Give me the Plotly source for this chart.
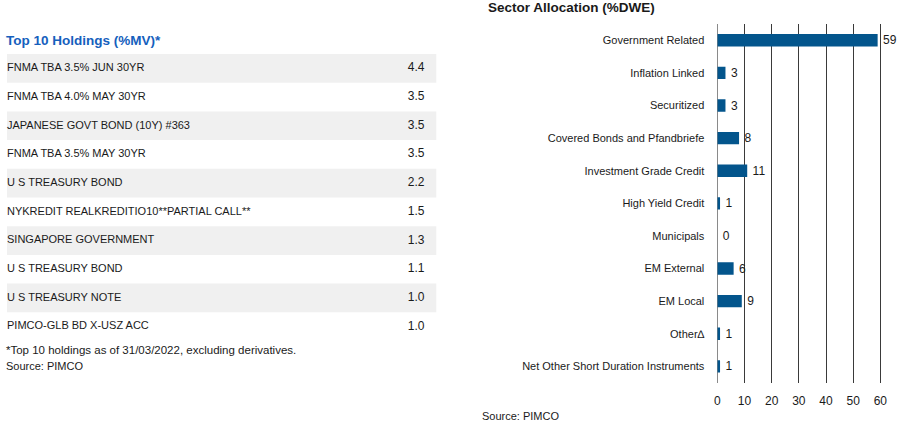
import plotly.graph_objects as go

# ---- data ----
holdings = [
    "FNMA TBA 3.5% JUN 30YR",
    "FNMA TBA 4.0% MAY 30YR",
    "JAPANESE GOVT BOND (10Y) #363",
    "FNMA TBA 3.5% MAY 30YR",
    "U S TREASURY BOND",
    "NYKREDIT REALKREDITIO10**PARTIAL CALL**",
    "SINGAPORE GOVERNMENT",
    "U S TREASURY BOND",
    "U S TREASURY NOTE",
    "PIMCO-GLB BD X-USZ ACC",
]
holding_mv = [4.4, 3.5, 3.5, 3.5, 2.2, 1.5, 1.3, 1.1, 1.0, 1.0]

sectors = [
    "Government Related",
    "Inflation Linked",
    "Securitized",
    "Covered Bonds and Pfandbriefe",
    "Investment Grade Credit",
    "High Yield Credit",
    "Municipals",
    "EM External",
    "EM Local",
    "Other\u2206",
    "Net Other Short Duration Instruments",
]
sector_dwe = [59, 3, 3, 8, 11, 1, 0, 6, 9, 1, 1]
sector_ticks = [0, 10, 20, 30, 40, 50, 60]

# ---- styling ----
W, H = 904, 426
FONT = "Liberation Sans, Arial, sans-serif"
BODY = 11
NUM = 12
BLUE = "#03558c"
TITLE_BLUE = "#1560bd"
TXT = "#1a1a1a"

def px_x(p):
    return p / W

def px_y(p):
    return 1 - p / H

fig = go.Figure()

# ---- left: holdings table drawn as banded rows ----
rows = list(range(len(holdings)))
fig.add_trace(go.Bar(
    x=[1] * len(rows), y=rows, orientation="h", width=1,
    marker=dict(color=["#f0f0f0" if i % 2 == 0 else "rgba(0,0,0,0)" for i in rows],
                line=dict(width=0)),
    xaxis="x2", yaxis="y2", hoverinfo="skip", showlegend=False,
))
fig.add_trace(go.Scatter(
    x=[0] * len(rows), y=rows, mode="text", text=holdings,
    textposition="middle right", textfont=dict(family=FONT, size=BODY, color=TXT),
    xaxis="x2", yaxis="y2", hoverinfo="skip", showlegend=False, cliponaxis=False,
))
fig.add_trace(go.Scatter(
    x=[0.972] * len(rows), y=rows, mode="text",
    text=[f"{v:.1f}" for v in holding_mv],
    textposition="middle left", textfont=dict(family=FONT, size=NUM, color=TXT),
    xaxis="x2", yaxis="y2", hoverinfo="skip", showlegend=False, cliponaxis=False,
))

# ---- right: sector allocation bar chart ----
fig.add_trace(go.Bar(
    x=sector_dwe, y=sectors, orientation="h", width=0.38,
    marker=dict(color=BLUE, line=dict(width=0)),
    text=[f"\u2009{v}" for v in sector_dwe], textposition="outside", constraintext="none",
    textfont=dict(family=FONT, size=NUM, color=TXT),
    cliponaxis=False, xaxis="x", yaxis="y", showlegend=False,
))

fig.update_layout(
    width=W, height=H,
    margin=dict(l=0, r=0, t=0, b=0),
    paper_bgcolor="white", plot_bgcolor="white",
    font=dict(family=FONT, size=BODY, color=TXT),
    xaxis=dict(
        domain=[px_x(716.7), 1], range=[0, 68.7],
        tickvals=sector_ticks, showgrid=True, gridcolor="#3a3a3a", gridwidth=1,
        zeroline=True, zerolinecolor="#8a8a8a", zerolinewidth=1,
        showline=False, ticks="", ticklabelstandoff=9,
        tickfont=dict(family=FONT, size=NUM, color=TXT), fixedrange=True,
    ),
    yaxis=dict(
        domain=[px_y(382.7), px_y(24)], autorange="reversed",
        showgrid=False, zeroline=False, showline=False, ticks="",
        ticklabelstandoff=12,
        tickfont=dict(family=FONT, size=BODY, color=TXT), fixedrange=True,
    ),
    xaxis2=dict(
        domain=[px_x(4), px_x(435)], range=[0, 1], visible=False, fixedrange=True,
    ),
    yaxis2=dict(
        domain=[px_y(341), px_y(54)], range=[len(rows) - 0.5, -0.5],
        visible=False, fixedrange=True,
    ),
    annotations=[
        dict(text="<b>Top 10 Holdings (%MV)*</b>", x=px_x(1), y=px_y(41),
             xref="paper", yref="paper", xanchor="left", yanchor="middle",
             showarrow=False, font=dict(family=FONT, size=13.5, color=TITLE_BLUE)),
        dict(text="*Top 10 holdings as of 31/03/2022, excluding derivatives.",
             x=px_x(1.5), y=px_y(350), xref="paper", yref="paper",
             xanchor="left", yanchor="middle", showarrow=False,
             font=dict(family=FONT, size=11.5, color=TXT)),
        dict(text="Source: PIMCO", x=px_x(1.5), y=px_y(366), xref="paper", yref="paper",
             xanchor="left", yanchor="middle", showarrow=False,
             font=dict(family=FONT, size=BODY, color=TXT)),
        dict(text="<b>Sector Allocation (%DWE)</b>", x=px_x(485), y=px_y(7),
             xref="paper", yref="paper", xanchor="left", yanchor="middle",
             showarrow=False, font=dict(family=FONT, size=13.5, color=TXT)),
        dict(text="Source: PIMCO", x=px_x(479), y=px_y(416), xref="paper", yref="paper",
             xanchor="left", yanchor="middle", showarrow=False,
             font=dict(family=FONT, size=BODY, color=TXT)),
    ],
)

fig.write_html("out.html", config={"displayModeBar": False})
